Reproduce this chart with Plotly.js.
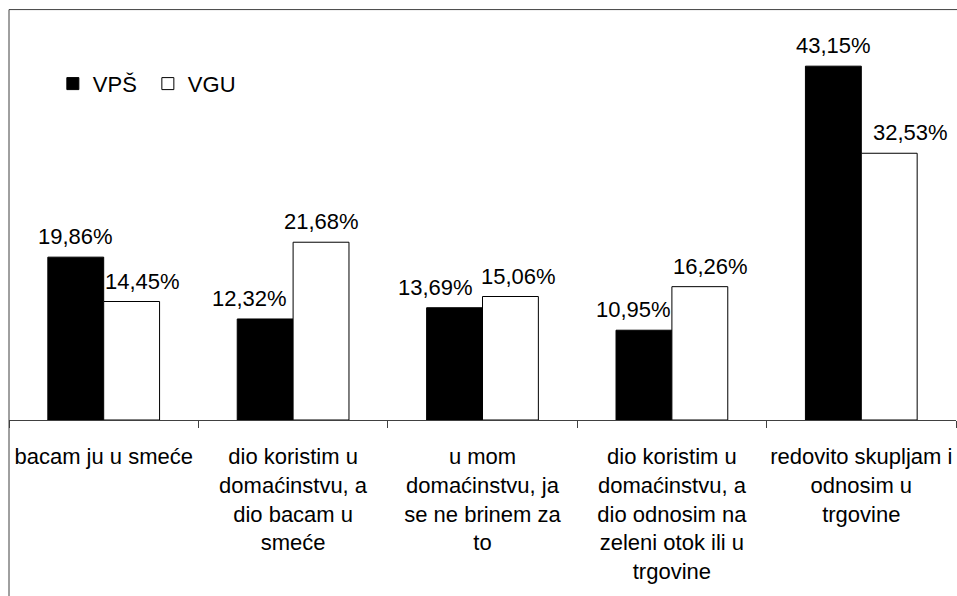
<!DOCTYPE html>
<html>
<head>
<meta charset="utf-8">
<script src="https://cdn.plot.ly/plotly-3.0.1.min.js"></script>
<style>html,body{margin:0;padding:0;background:#fff;}#chart{width:957px;height:596px;}</style>
</head>
<body>
<div id="chart"></div>
<script>
const categories = [
  "bacam ju u smeće",
  "dio koristim u<br>domaćinstvu, a<br>dio bacam u<br>smeće",
  "u mom<br>domaćinstvu, ja<br>se ne brinem za<br>to",
  "dio koristim u<br>domaćinstvu, a<br>dio odnosim na<br>zeleni otok ili u<br>trgovine",
  "redovito skupljam i<br>odnosim u<br>trgovine"
];
const seriesNames = ["VPŠ", "VGU"];
const vps = [19.86, 12.32, 13.69, 10.95, 43.15];
const vgu = [14.45, 21.68, 15.06, 16.26, 32.53];

const FONT = "Liberation Sans, Arial, sans-serif";
const FS = 22;
const fmt = v => v.toFixed(2).replace(".", ",") + "%";

const traces = [
  {type: "bar", name: seriesNames[0], x: categories, y: vps,
   marker: {color: "#000000", line: {color: "#000000", width: 1}}, hoverinfo: "skip"},
  {type: "bar", name: seriesNames[1], x: categories, y: vgu,
   marker: {color: "#ffffff", line: {color: "#000000", width: 1}}, hoverinfo: "skip"}
];

// label nudges (layout only) to mimic the collision avoidance of the original
const nudgeA = [0, -16, -19, -10, 0];
const nudgeB = [11, 0, 8, 11, 21];
const annotations = [];
categories.forEach((c, i) => {
  annotations.push({x: c, y: vps[i], text: fmt(vps[i]), showarrow: false,
    xref: "x", yref: "y", yanchor: "bottom", xshift: -28 + nudgeA[i], yshift: 6,
    font: {family: FONT, size: FS, color: "#000"}});
  annotations.push({x: c, y: vgu[i], text: fmt(vgu[i]), showarrow: false,
    xref: "x", yref: "y", yanchor: "bottom", xshift: 28 + nudgeB[i], yshift: 6,
    font: {family: FONT, size: FS, color: "#000"}});
});

const layout = {
  width: 957, height: 596,
  margin: {l: 9, r: 1, t: 10, b: 176},
  paper_bgcolor: "#ffffff", plot_bgcolor: "#ffffff",
  font: {family: FONT, size: FS, color: "#000"},
  barmode: "group", bargap: 0.41, bargroupgap: 0,
  showlegend: true,
  legend: {orientation: "h", x: 0.0463, y: 0.82, xanchor: "left", yanchor: "middle",
    entrywidth: 50, entrywidthmode: "pixels",
    font: {family: FONT, size: FS, color: "#000"}, bgcolor: "rgba(0,0,0,0)", traceorder: "normal"},
  xaxis: {type: "category", showline: true, linecolor: "#404040", linewidth: 1,
    ticks: "outside", tickson: "boundaries", ticklen: 7, tickcolor: "#404040", tickwidth: 1,
    tickangle: 0, automargin: false,
    ticklabelstandoff: 17, showgrid: false, zeroline: false, fixedrange: true,
    tickfont: {family: FONT, size: FS, color: "#000"}},
  yaxis: {range: [0, 50], visible: false, showgrid: false, zeroline: false, fixedrange: true},
  annotations: annotations,
  shapes: [
    {type: "line", xref: "paper", yref: "paper", x0: 0, x1: 1.01, y0: 1.001, y1: 1.001,
     line: {color: "#404040", width: 1}},
    {type: "line", xref: "paper", yref: "paper", x0: 0, x1: 0, y0: 1.001, y1: -0.45,
     line: {color: "#404040", width: 1}}
  ]
};

Plotly.newPlot("chart", traces, layout, {displayModeBar: false, staticPlot: true});
</script>
</body>
</html>
